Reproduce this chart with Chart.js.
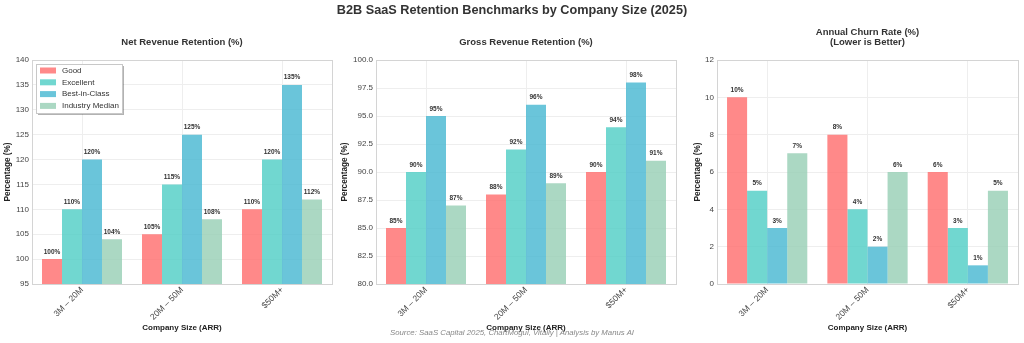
<!DOCTYPE html>
<html>
<head>
<meta charset="utf-8">
<script src="https://cdn.jsdelivr.net/npm/chart.js@4"></script>
<style>
  body { margin: 0; background: #fff; font-family: "Liberation Sans", Arial, sans-serif; }
  #wrap { position: relative; width: 1024px; height: 343px; overflow: hidden; }
  canvas { position: absolute; top: 0; }
  #title { position: absolute; top: 3px; left: 0; width: 1024px; text-align: center;
           font-weight: bold; font-size: 12.7px; line-height: 15px; color: #333; }
  #source { position: absolute; top: 328px; left: 0; width: 1024px; text-align: center;
            font-style: italic; font-size: 7.8px; line-height: 10px; color: #888; z-index: 2; }
</style>
</head>
<body>
<div id="wrap">
  <canvas id="nrr" width="340" height="343" style="left:0"></canvas>
  <canvas id="grr" width="340" height="343" style="left:340px"></canvas>
  <canvas id="churn" width="344" height="343" style="left:680px"></canvas>
  <div id="title">B2B SaaS Retention Benchmarks by Company Size (2025)</div>
  <div id="source">Source: SaaS Capital 2025, ChartMogul, Vitally | Analysis by Manus AI</div>
</div>
<script>
// company size buckets (matplotlib ate the "$" pairs, so the first two lost them)
const sizes = ["3M – 20M", "20M – 50M", "$50M+"];
const tiers = ["Good", "Excellent", "Best-in-Class", "Industry Median"];

const nrrGood = [100, 105, 110];
const nrrExcellent = [110, 115, 120];
const nrrBest = [120, 125, 135];
const nrrMedian = [104, 108, 112];

const grrGood = [85, 88, 90];
const grrExcellent = [90, 92, 94];
const grrBest = [95, 96, 98];
const grrMedian = [87, 89, 91];

const churnGood = [10, 8, 6];
const churnExcellent = [5, 4, 3];
const churnBest = [3, 2, 1];
const churnMedian = [7, 6, 5];

const nrrTicks = { min: 95, max: 140, step: 5 };
const grrTicks = { min: 80, max: 100, step: 2.5 };
const churnTicks = { min: 0, max: 12, step: 2 };

const colors = [
  "rgba(255,107,107,0.8)",
  "rgba(78,205,196,0.8)",
  "rgba(69,183,209,0.8)",
  "rgba(150,206,180,0.8)"
];

Chart.defaults.font.family = '"Liberation Sans", Arial, sans-serif';
Chart.defaults.color = "#444";

// light frame around the plot area
const framePlugin = {
  id: "frame",
  afterDatasetsDraw(chart) {
    const a = chart.chartArea, ctx = chart.ctx;
    ctx.save();
    ctx.strokeStyle = "#d4d4d4";
    ctx.lineWidth = 1;
    ctx.strokeRect(Math.round(a.left) + 0.5, Math.round(a.top) + 0.5,
                   Math.round(a.right - a.left), Math.round(a.bottom - a.top));
    ctx.restore();
  }
};

// "xx%" above every bar
const valueLabels = {
  id: "valueLabels",
  afterDatasetsDraw(chart) {
    const ctx = chart.ctx;
    ctx.save();
    ctx.font = 'bold 6.5px "Liberation Sans", Arial, sans-serif';
    ctx.fillStyle = "#333";
    ctx.textAlign = "center";
    ctx.textBaseline = "bottom";
    chart.data.datasets.forEach((ds, i) => {
      chart.getDatasetMeta(i).data.forEach((bar, j) => {
        ctx.fillText(ds.data[j] + "%", bar.x, bar.y - 4);
      });
    });
    ctx.restore();
  }
};

// subplot title, centred over the plot area
const panelTitle = {
  id: "panelTitle",
  afterDraw(chart, args, opts) {
    if (!opts.lines) return;
    const a = chart.chartArea, ctx = chart.ctx;
    ctx.save();
    ctx.font = 'bold 9.5px "Liberation Sans", Arial, sans-serif';
    ctx.fillStyle = "#333";
    ctx.textAlign = "center";
    ctx.textBaseline = "middle";
    const cx = (a.left + a.right) / 2;
    opts.lines.forEach((t, k) => ctx.fillText(t, cx, opts.y[k]));
    ctx.restore();
  }
};

// boxed legend in the upper-left corner of the plot
const cornerLegend = {
  id: "cornerLegend",
  afterDraw(chart, args, opts) {
    if (!opts.show) return;
    const a = chart.chartArea, ctx = chart.ctx;
    const x = Math.round(a.left) + 4, y = Math.round(a.top) + 4, w = 86, h = 49;
    ctx.save();
    ctx.fillStyle = "rgba(0,0,0,0.3)";
    ctx.fillRect(x + 2, y + 2, w, h);
    ctx.fillStyle = "#fff";
    ctx.fillRect(x, y, w, h);
    ctx.strokeStyle = "#c8c8c8";
    ctx.strokeRect(x + 0.5, y + 0.5, w, h);
    ctx.font = '8px "Liberation Sans", Arial, sans-serif';
    ctx.textBaseline = "middle";
    chart.data.datasets.forEach((ds, i) => {
      const cy = y + 6.5 + i * 11.8;
      ctx.fillStyle = ds.backgroundColor;
      ctx.fillRect(x + 4, cy - 3, 16, 6);
      ctx.fillStyle = "#333";
      ctx.fillText(ds.label, x + 26, cy);
    });
    ctx.restore();
  }
};

function makeChart(id, series, ticks, opt) {
  new Chart(document.getElementById(id), {
    type: "bar",
    data: {
      labels: sizes,
      datasets: series.map((d, i) => ({
        label: tiers[i],
        data: d,
        backgroundColor: colors[i],
        borderWidth: 0,
        barPercentage: 1,
        categoryPercentage: 0.8
      }))
    },
    options: {
      responsive: false,
      devicePixelRatio: 1,
      animation: false,
      layout: { padding: { top: 60, right: opt.right, left: 0, bottom: 0 } },
      plugins: {
        legend: { display: false },
        tooltip: { enabled: false },
        panelTitle: { lines: opt.title, y: opt.titleY },
        cornerLegend: { show: !!opt.legend }
      },
      scales: {
        x: {
          grid: { offset: false, color: "#eeeeee", drawTicks: false },
          border: { display: false },
          ticks: { minRotation: 45, maxRotation: 45, autoSkip: false, padding: 1,
                   font: { size: 8.5 }, color: "#444" },
          title: { display: true, text: "Company Size (ARR)", color: "#222",
                   font: { size: 8, weight: "bold" }, padding: { top: 0, bottom: 10 } },
          afterFit: s => { s.height = 59; }
        },
        y: {
          min: ticks.min,
          max: ticks.max,
          grid: { color: "#eeeeee", drawTicks: false },
          border: { display: false },
          ticks: { stepSize: ticks.step, padding: 3, font: { size: 8 }, color: "#444",
                   callback: v => opt.decimals ? v.toFixed(opt.decimals) : v },
          title: { display: true, text: "Percentage (%)", color: "#222",
                   font: { size: 8.2, weight: "bold" }, padding: { top: opt.ytitlePad, bottom: 0 } },
          afterFit: s => { s.width = opt.yWidth; }
        }
      }
    },
    plugins: [framePlugin, valueLabels, panelTitle, cornerLegend]
  });
}

makeChart("nrr", [nrrGood, nrrExcellent, nrrBest, nrrMedian], nrrTicks,
  { right: 8, yWidth: 32, ytitlePad: 3, title: ["Net Revenue Retention (%)"], titleY: [42], legend: true });
makeChart("grr", [grrGood, grrExcellent, grrBest, grrMedian], grrTicks,
  { right: 4, yWidth: 36, ytitlePad: 0, decimals: 1, title: ["Gross Revenue Retention (%)"], titleY: [42] });
makeChart("churn", [churnGood, churnExcellent, churnBest, churnMedian], churnTicks,
  { right: 6, yWidth: 37, ytitlePad: 13, title: ["Annual Churn Rate (%)", "(Lower is Better)"], titleY: [32, 42] });
</script>
</body>
</html>
